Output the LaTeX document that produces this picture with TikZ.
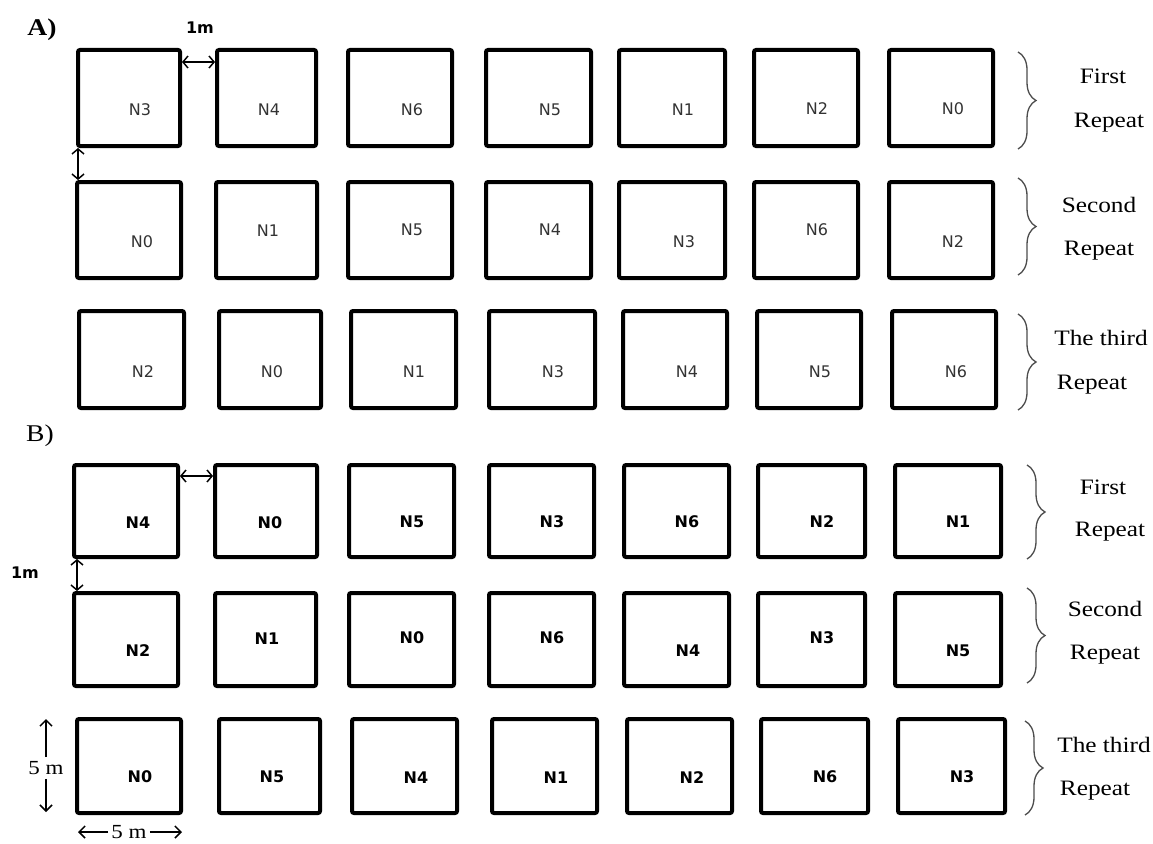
\documentclass[tikz,border=0pt]{standalone}
\usepackage{fontspec}
\setmainfont{Liberation Serif}[FakeStretch=1.15]
\newfontfamily\plotfont{DejaVu Sans}
\usetikzlibrary{arrows.meta, decorations.pathreplacing}

\begin{document}
\begin{tikzpicture}[x=1pt, y=-1pt,
  plot/.style={draw, line width=4pt, rounded corners=2pt, inner sep=0pt},
  nameA/.style={font=\plotfont\fontsize{16}{18}\selectfont, text=black!80, inner sep=0pt},
  nameB/.style={font=\plotfont\bfseries\fontsize{16}{18}\selectfont, inner sep=0pt},
  gap/.style={{Straight Barb[length=5pt,width=12pt]}-{Straight Barb[length=5pt,width=12pt]}, line width=1.5pt},
  dim/.style={-{Straight Barb[length=6pt,width=12pt]}, line width=1.5pt},
  rep/.style={decorate, decoration={brace, amplitude=18pt}, line width=1.3pt, draw=black!70},
  reptext/.style={font=\fontsize{22}{24}\selectfont, text=black, inner sep=0pt, anchor=base},
]
\useasboundingbox (0,0) rectangle (1153,843);

% Part A

\node[font=\bfseries\fontsize{24}{26}\selectfont, inner sep=0pt, anchor=base] (partA) at (42,36) {A)};

% First repeat
\node[plot, minimum width=102pt, minimum height=96pt] (a11) at (129,98) {};
\node[plot, minimum width=99pt, minimum height=96pt] (a12) at (266.5,98) {};
\node[plot, minimum width=104pt, minimum height=96pt] (a13) at (400,98) {};
\node[plot, minimum width=105pt, minimum height=96pt] (a14) at (538.5,98) {};
\node[plot, minimum width=106pt, minimum height=96pt] (a15) at (672,98) {};
\node[plot, minimum width=104pt, minimum height=96pt] (a16) at (806,98) {};
\node[plot, minimum width=104pt, minimum height=96pt] (a17) at (941,98) {};

% Second repeat
\node[plot, minimum width=104pt, minimum height=96pt] (a21) at (129,230) {};
\node[plot, minimum width=101pt, minimum height=96pt] (a22) at (266.5,230) {};
\node[plot, minimum width=104pt, minimum height=96pt] (a23) at (400,230) {};
\node[plot, minimum width=105pt, minimum height=96pt] (a24) at (538.5,230) {};
\node[plot, minimum width=106pt, minimum height=96pt] (a25) at (672,230) {};
\node[plot, minimum width=104pt, minimum height=96pt] (a26) at (806,230) {};
\node[plot, minimum width=104pt, minimum height=96pt] (a27) at (941,230) {};

% Third repeat
\node[plot, minimum width=105pt, minimum height=97pt] (a31) at (131.5,359.5) {};
\node[plot, minimum width=102pt, minimum height=97pt] (a32) at (270,359.5) {};
\node[plot, minimum width=105pt, minimum height=97pt] (a33) at (403.5,359.5) {};
\node[plot, minimum width=106pt, minimum height=97pt] (a34) at (542,359.5) {};
\node[plot, minimum width=104pt, minimum height=97pt] (a35) at (675,359.5) {};
\node[plot, minimum width=104pt, minimum height=97pt] (a36) at (809,359.5) {};
\node[plot, minimum width=104pt, minimum height=97pt] (a37) at (944,359.5) {};

% Treatment names A
\node[nameA] (a11n) at (140,110) {N3};
\node[nameA] (a12n) at (269,110) {N4};
\node[nameA] (a13n) at (412,110) {N6};
\node[nameA] (a14n) at (550,110) {N5};
\node[nameA] (a15n) at (683,110) {N1};
\node[nameA] (a16n) at (817,109) {N2};
\node[nameA] (a17n) at (953,109) {N0};

\node[nameA] (a21n) at (142,242) {N0};
\node[nameA] (a22n) at (268,231) {N1};
\node[nameA] (a23n) at (412,230) {N5};
\node[nameA] (a24n) at (550,230) {N4};
\node[nameA] (a25n) at (684,242) {N3};
\node[nameA] (a26n) at (817,230) {N6};
\node[nameA] (a27n) at (953,242) {N2};

\node[nameA] (a31n) at (143,372) {N2};
\node[nameA] (a32n) at (272,372) {N0};
\node[nameA] (a33n) at (414,372) {N1};
\node[nameA] (a34n) at (553,372) {N3};
\node[nameA] (a35n) at (687,372) {N4};
\node[nameA] (a36n) at (820,372) {N5};
\node[nameA] (a37n) at (956,372) {N6};

% Spacing A
\draw[gap] ([yshift=-14pt]a11.north east) -- ([yshift=-14pt]a12.north west);
\draw[gap] ([xshift=2pt]a11.south west) -- ([xshift=2pt]a11.south west |- a21.north);
\node[font=\plotfont\bfseries\fontsize{16}{18}\selectfont, inner sep=0pt] (onemA) at (200,28) {1m};

% Repeats A
\coordinate (ra1t) at (1018,52);
\coordinate (ra1b) at (1018,149);
\coordinate (ra2t) at (1018,178);
\coordinate (ra2b) at (1018,275);
\coordinate (ra3t) at (1018,314);
\coordinate (ra3b) at (1018,410);
\draw[rep] (ra1t) -- (ra1b);
\draw[rep] (ra2t) -- (ra2b);
\draw[rep] (ra3t) -- (ra3b);

\node[reptext] (ra1a) at (1103,84) {First};
\node[reptext] (ra1c) at (1109,127) {Repeat};
\node[reptext] (ra2a) at (1099,212) {Second};
\node[reptext] (ra2c) at (1099,255) {Repeat};
\node[reptext] (ra3a) at (1101,345) {The third};
\node[reptext] (ra3c) at (1092,389) {Repeat};

% Part B

\node[font=\fontsize{24}{26}\selectfont, inner sep=0pt, anchor=base] (partB) at (40,441) {B)};

% First repeat
\node[plot, minimum width=104pt, minimum height=92pt] (b11) at (126,511) {};
\node[plot, minimum width=102pt, minimum height=92pt] (b12) at (266,511) {};
\node[plot, minimum width=105pt, minimum height=92pt] (b13) at (401.5,511) {};
\node[plot, minimum width=105pt, minimum height=92pt] (b14) at (541.5,511) {};
\node[plot, minimum width=105pt, minimum height=92pt] (b15) at (676.5,511) {};
\node[plot, minimum width=107pt, minimum height=92pt] (b16) at (811.5,511) {};
\node[plot, minimum width=106pt, minimum height=92pt] (b17) at (948,511) {};

% Second repeat
\node[plot, minimum width=104pt, minimum height=93pt] (b21) at (126,639.5) {};
\node[plot, minimum width=101pt, minimum height=93pt] (b22) at (265.5,639.5) {};
\node[plot, minimum width=105pt, minimum height=93pt] (b23) at (401.5,639.5) {};
\node[plot, minimum width=105pt, minimum height=93pt] (b24) at (541.5,639.5) {};
\node[plot, minimum width=105pt, minimum height=93pt] (b25) at (676.5,639.5) {};
\node[plot, minimum width=107pt, minimum height=93pt] (b26) at (811.5,639.5) {};
\node[plot, minimum width=106pt, minimum height=93pt] (b27) at (948,639.5) {};

% Third repeat
\node[plot, minimum width=104pt, minimum height=94pt] (b31) at (129,766) {};
\node[plot, minimum width=101pt, minimum height=94pt] (b32) at (269.5,766) {};
\node[plot, minimum width=105pt, minimum height=94pt] (b33) at (404.5,766) {};
\node[plot, minimum width=105pt, minimum height=94pt] (b34) at (544.5,766) {};
\node[plot, minimum width=105pt, minimum height=94pt] (b35) at (679.5,766) {};
\node[plot, minimum width=107pt, minimum height=94pt] (b36) at (814.5,766) {};
\node[plot, minimum width=107pt, minimum height=94pt] (b37) at (951.5,766) {};

% Treatment names B
\node[nameB] (b11n) at (138,523) {N4};
\node[nameB] (b12n) at (270,523) {N0};
\node[nameB] (b13n) at (412,522) {N5};
\node[nameB] (b14n) at (552,522) {N3};
\node[nameB] (b15n) at (687,522) {N6};
\node[nameB] (b16n) at (822,522) {N2};
\node[nameB] (b17n) at (958,522) {N1};

\node[nameB] (b21n) at (138,651) {N2};
\node[nameB] (b22n) at (267,639) {N1};
\node[nameB] (b23n) at (412,638) {N0};
\node[nameB] (b24n) at (552,638) {N6};
\node[nameB] (b25n) at (688,651) {N4};
\node[nameB] (b26n) at (822,638) {N3};
\node[nameB] (b27n) at (958,651) {N5};

\node[nameB] (b31n) at (140,777) {N0};
\node[nameB] (b32n) at (272,777) {N5};
\node[nameB] (b33n) at (416,778) {N4};
\node[nameB] (b34n) at (556,778) {N1};
\node[nameB] (b35n) at (692,778) {N2};
\node[nameB] (b36n) at (825,777) {N6};
\node[nameB] (b37n) at (962,777) {N3};

% Spacing B
\draw[gap] ([yshift=-13pt]b11.north east) -- ([yshift=-13pt]b12.north west);
\draw[gap] ([xshift=5pt]b11.south west) -- ([xshift=5pt]b11.south west |- b21.north);
\node[font=\plotfont\bfseries\fontsize{16}{18}\selectfont, inner sep=0pt] (onemB) at (25,573) {1m};

% Plot size
\node[font=\fontsize{20}{22}\selectfont, inner sep=4pt] (dimv) at (46,768) {5 m};
\coordinate (vt) at (46,719);
\coordinate (vb) at (46,812);
\draw[dim] (dimv) -- (vt);
\draw[dim] (dimv) -- (vb);

\node[font=\fontsize{20}{22}\selectfont, inner sep=3pt] (dimh) at (129,832) {5 m};
\coordinate (hl) at (78,832);
\coordinate (hr) at (182,832);
\draw[dim] (dimh) -- (hl);
\draw[dim] (dimh) -- (hr);

% Repeats B
\coordinate (rb1t) at (1027,465);
\coordinate (rb1b) at (1027,559);
\coordinate (rb2t) at (1027,588);
\coordinate (rb2b) at (1027,683);
\coordinate (rb3t) at (1025,721);
\coordinate (rb3b) at (1025,815);
\draw[rep] (rb1t) -- (rb1b);
\draw[rep] (rb2t) -- (rb2b);
\draw[rep] (rb3t) -- (rb3b);

\node[reptext] (rb1a) at (1103,494) {First};
\node[reptext] (rb1c) at (1110,536) {Repeat};
\node[reptext] (rb2a) at (1105,616) {Second};
\node[reptext] (rb2c) at (1105,659) {Repeat};
\node[reptext] (rb3a) at (1104,752) {The third};
\node[reptext] (rb3c) at (1095,795) {Repeat};

\end{tikzpicture}
\end{document}
